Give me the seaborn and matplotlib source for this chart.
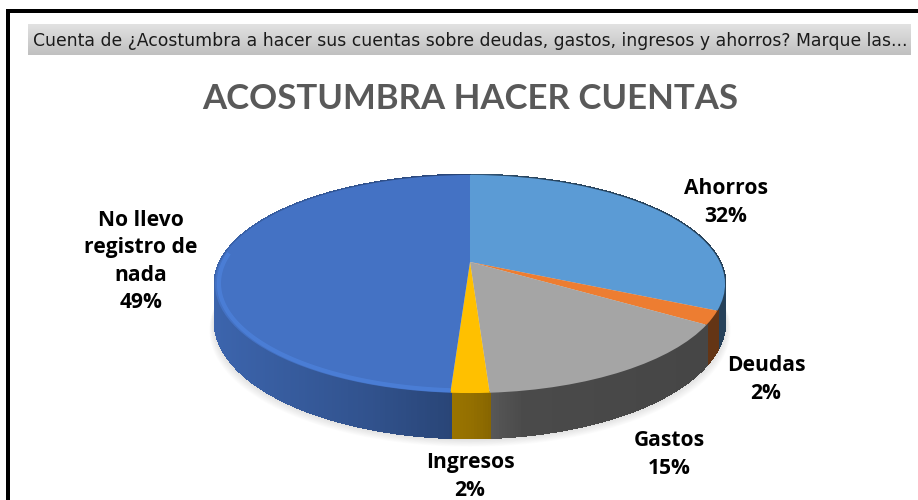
import numpy as np
import matplotlib
matplotlib.use("Agg")
import matplotlib.pyplot as plt
from matplotlib.collections import PolyCollection
from matplotlib.patches import Polygon, Rectangle
from matplotlib.transforms import Transform
import seaborn as sns

categories = ["Ahorros", "Deudas", "Gastos", "Ingresos", "No llevo registro de nada"]
values = [32, 2, 15, 2, 49]
label_texts = ["Ahorros\n32%", "Deudas\n2%", "Gastos\n15%", "Ingresos\n2%",
               "No llevo\nregistro de\nnada\n49%"]
label_positions = [(726, 202.5), (766, 379.5), (669, 454.5), (470, 476.5), (141, 261.5)]
colors = ["#5B9BD5", "#ED7D31", "#A5A5A5", "#FFC000", "#4472C4"]
header_text = "Cuenta de ¿Acostumbra a hacer sus cuentas sobre deudas, gastos, ingresos y ahorros? Marque las..."
title_text = "ACOSTUMBRA HACER CUENTAS"

sns.set_theme(style="white")
plt.rcParams["font.family"] = ["Open Sans", "DejaVu Sans"]
palette = sns.color_palette(colors)

# Perspective used to lay the unit pie on the table
CX, CY, K, A, B, DEPTH = 470.0, 262.0, 0.2018, 104.6, 249.8, 45.0


def project(x, y):
    d = 1 + K * y
    return CX + B * x / d, CY - A * y / d


class Perspective(Transform):
    input_dims = 2
    output_dims = 2
    is_affine = False

    def transform_non_affine(self, values):
        v = np.asarray(values, dtype=float)
        X, Y = project(v[:, 0], v[:, 1])
        return np.column_stack([X, Y])


def drop(y):
    return DEPTH * (1 - K) / (1 + K * y)


def side_shade(X):
    t = (X - (CX - 255)) / 510
    return np.interp(t, [0, 0.3, 0.5, 0.6, 1], [0.88, 0.72, 0.58, 0.45, 0.42])


fig = plt.figure(figsize=(9.18, 5.0), dpi=100, facecolor="white")
ax = fig.add_axes([0, 0, 1, 1])

wedges, _ = ax.pie(values, colors=palette, startangle=90, counterclock=False,
                   radius=1, wedgeprops={"linewidth": 0})
persp = Perspective()
for w in wedges:
    w.set_transform(persp + ax.transData)
    w.set_zorder(5)
ax.set_aspect("auto")
ax.set_xlim(0, 918)
ax.set_ylim(500, 0)
ax.set_frame_on(False)

# soft shadow under the pie
th = np.linspace(0, 2 * np.pi, 361)
cx, cy = np.cos(th), np.sin(th)
X, Y = project(cx, cy)
Ys = Y + drop(cy)
for off in range(1, 12):
    ax.add_patch(Polygon(np.column_stack([X + (X - CX) * off * 0.002, Ys + off * 0.8]),
                         closed=True, fc="black", ec="none", alpha=0.012, zorder=1))

# side wall, split by the same shares as the pie
edges = 90 - 360 * np.concatenate([[0], np.cumsum(values)]) / np.sum(values)
for i, col in enumerate(palette):
    n = max(int(abs(edges[i + 1] - edges[i]) * 2), 2)
    ang = np.radians(np.linspace(edges[i], edges[i + 1], n + 1))
    ux, uy = np.cos(ang), np.sin(ang)
    PX, PY = project(ux, uy)
    QY = PY + drop(uy)
    quads, fcs = [], []
    for j in range(n):
        quads.append([(PX[j], PY[j]), (PX[j + 1], PY[j + 1]), (PX[j + 1], QY[j + 1]), (PX[j], QY[j])])
        s = side_shade((PX[j] + PX[j + 1]) / 2)
        fcs.append(tuple(np.array(col) * s))
    ax.add_collection(PolyCollection(quads, facecolors=fcs, edgecolors=fcs, linewidths=1.2,
                                     antialiaseds=False, zorder=3))

# bevel on the front edge of the largest slice
ang = np.radians(np.linspace(edges[4], max(edges[5], -270), 200))
mask = np.sin(ang) < 0.1
RX, RY = project(0.985 * np.cos(ang[mask]), 0.985 * np.sin(ang[mask]))
ax.plot(RX, RY, color="#4F86E2", lw=3.0, alpha=0.6, zorder=6, solid_capstyle="butt")

# header band
grad = np.linspace(0.885, 0.75, 32).reshape(-1, 1)
ax.imshow(grad, cmap="gray", vmin=0, vmax=1, extent=(28, 911, 55, 24), aspect="auto", zorder=1)
ax.set_xlim(0, 918)
ax.set_ylim(500, 0)
ax.text(33, 40.5, header_text, fontsize=12.45, family=["DejaVu Sans"], color="#1a1a1a", va="center", ha="left", zorder=8)

# frame of the screenshot
ax.add_patch(Rectangle((5.5, 9), 4, 491, fc="black", ec="none", zorder=9))
ax.add_patch(Rectangle((5.5, 9), 912.5, 3.5, fc="black", ec="none", zorder=9))

ax.text(470, 99, title_text, fontsize=25, family=["Lato", "DejaVu Sans"], fontweight="bold",
        color="#595959", ha="center", va="center", zorder=8)

for txt, (lx, ly) in zip(label_texts, label_positions):
    ax.text(lx, ly, txt, fontsize=15.1, fontweight="bold", color="black", ha="center", va="center",
            linespacing=1.4, zorder=8)

fig.savefig("out.png", dpi=100)
